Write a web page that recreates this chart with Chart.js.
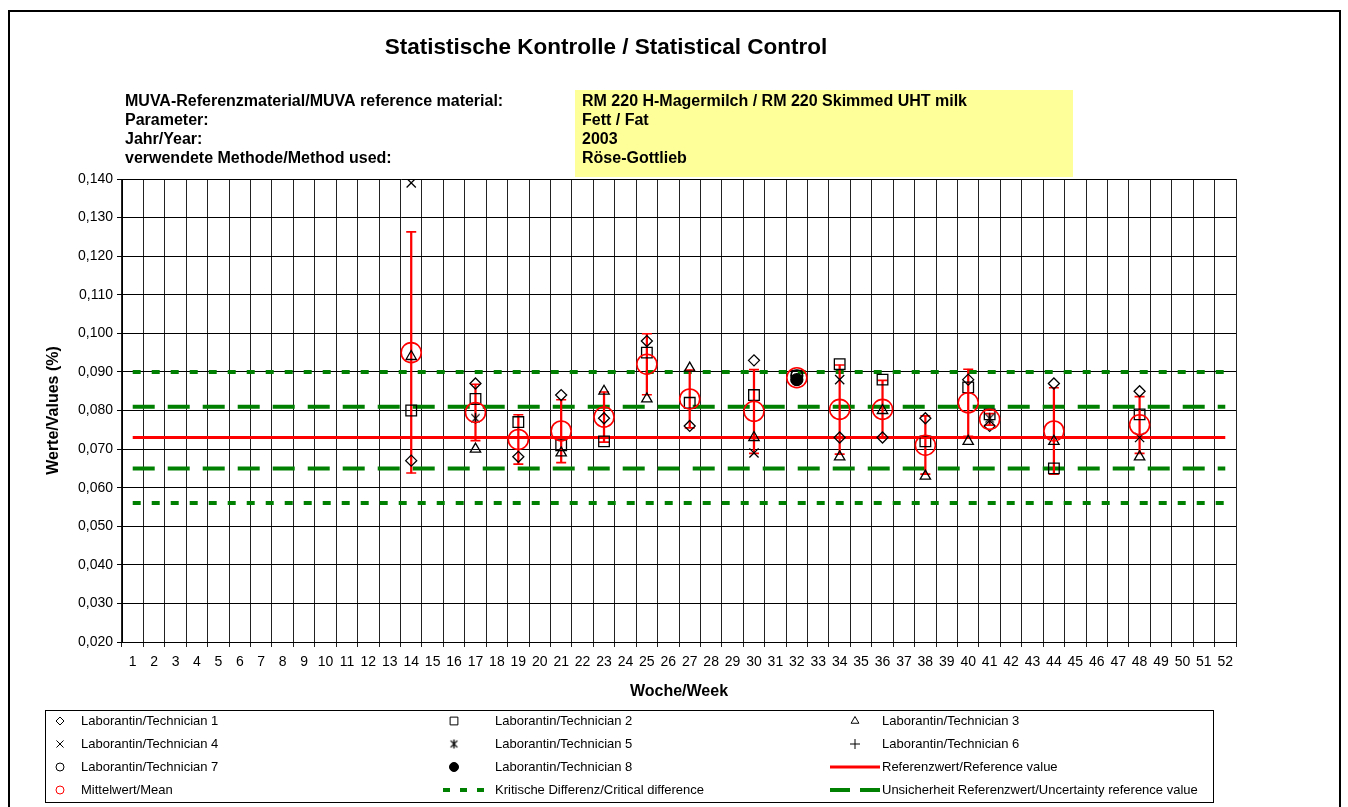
<!DOCTYPE html>
<html>
<head>
<meta charset="utf-8">
<title>Statistische Kontrolle / Statistical Control</title>
<script src="https://cdn.jsdelivr.net/npm/chart.js"></script>
<style>
  html, body { margin: 0; padding: 0; background: #fff; }
  canvas { display: block; }
</style>
</head>
<body>
<canvas id="chart" width="1348" height="807"></canvas>
<script>
// x axis: weeks of the year
var weekLabels = ['1','2','3','4','5','6','7','8','9','10','11','12','13','14','15','16','17','18','19','20',
  '21','22','23','24','25','26','27','28','29','30','31','32','33','34','35','36','37','38','39','40',
  '41','42','43','44','45','46','47','48','49','50','51','52'];

// weeks where samples were measured
var sampleWeeks = [14, 17, 19, 21, 23, 25, 27, 30, 32, 34, 36, 38, 40, 41, 44, 48];

// results per technician (%), null = no result that week
var tech1 = [0.067, 0.087, 0.068, 0.084, 0.078, 0.098, 0.076, 0.093, null, 0.073, 0.073, 0.078, 0.088, 0.076, 0.087, 0.085];
var tech2 = [0.080, 0.083, 0.077, 0.071, 0.072, 0.095, 0.082, 0.084, 0.089, 0.092, 0.088, 0.072, 0.086, 0.079, 0.065, 0.079];
var tech3 = [0.094, 0.070, null, 0.069, 0.085, 0.083, 0.091, 0.073, null, 0.068, 0.080, 0.063, 0.072, null, 0.072, 0.068];
var tech4 = [0.139, null, null, null, null, null, null, 0.069, null, 0.088, null, null, null, null, null, 0.073];
var tech5 = [null, 0.078, null, null, null, null, null, null, null, null, null, null, null, 0.078, null, null];
var tech6 = [null, null, null, null, null, null, null, null, null, null, null, null, null, null, null, null];
var tech7 = [null, null, null, null, null, null, null, null, 0.089, null, null, null, null, null, null, null];
var tech8 = [null, null, null, null, null, null, null, null, 0.088, null, null, null, null, null, null, null];

// mean and its error bar per week
var meanValues = [0.095, 0.0795, 0.0725, 0.0747, 0.0783, 0.092, 0.083, 0.0798, 0.0885, 0.0803, 0.0803, 0.071, 0.082, 0.0777, 0.0747, 0.0763];
var errLow  = [0.0638, 0.0722, 0.0661, 0.0665, 0.0718, 0.0841, 0.0755, 0.0689, 0.0880, 0.0687, 0.0728, 0.0635, 0.0733, 0.0762, 0.0635, 0.0689];
var errHigh = [0.1263, 0.0868, 0.0789, 0.0828, 0.0848, 0.0999, 0.0905, 0.0906, 0.0890, 0.0918, 0.0878, 0.0786, 0.0907, 0.0792, 0.0859, 0.0836];

// reference value and limits
var referenceValue = 0.073;
var uncertaintyLimits = [0.065, 0.081];
var criticalLimits = [0.056, 0.090];

var yMin = 0.020, yMax = 0.140, yStep = 0.010;

var headerLabels = ['MUVA-Referenzmaterial/MUVA reference material:', 'Parameter:', 'Jahr/Year:', 'verwendete Methode/Method used:'];
var headerValues = ['RM 220 H-Magermilch / RM 220 Skimmed UHT milk', 'Fett / Fat', '2003', 'Röse-Gottlieb'];

var FONT = '"Liberation Sans", Arial, sans-serif';
Chart.defaults.font.family = FONT;
Chart.defaults.color = '#000';

function makeStar(size) {
  var c = document.createElement('canvas');
  c.width = size; c.height = size;
  var g = c.getContext('2d');
  g.strokeStyle = '#000';
  g.lineWidth = 1.3;
  var m = size / 2, r = size / 2 - 1;
  g.beginPath();
  g.moveTo(m - r * 0.75, m - r * 0.75); g.lineTo(m + r * 0.75, m + r * 0.75);
  g.moveTo(m + r * 0.75, m - r * 0.75); g.lineTo(m - r * 0.75, m + r * 0.75);
  g.moveTo(m, m - r); g.lineTo(m, m + r);
  g.stroke();
  return c;
}
var starMarker = makeStar(13);
var starLegend = makeStar(11);

function points(values) {
  var out = [];
  for (var i = 0; i < sampleWeeks.length; i++) {
    if (values[i] !== null) out.push({ x: String(sampleWeeks[i]), y: values[i] });
  }
  return out;
}

function hline(v) {
  return [{ x: weekLabels[0], y: v }, { x: weekLabels[weekLabels.length - 1], y: v }];
}

function techSet(label, values, style, radius, fill) {
  return {
    type: 'line', label: label, data: points(values), showLine: false, order: 1,
    pointStyle: style, pointRadius: radius, borderColor: '#000', borderWidth: 1.3,
    pointBackgroundColor: fill || 'rgba(0,0,0,0)', backgroundColor: fill || 'rgba(0,0,0,0)'
  };
}

var errBars = [], errCaps = [];
for (var i = 0; i < sampleWeeks.length; i++) {
  errBars.push({ x: String(sampleWeeks[i]), y: [errLow[i], errHigh[i]] });
  errCaps.push({ x: String(sampleWeeks[i]), y: errLow[i] });
  errCaps.push({ x: String(sampleWeeks[i]), y: errHigh[i] });
}

var datasets = [
  { type: 'line', label: 'Mittelwert/Mean', data: points(meanValues), showLine: false, order: 0,
    pointStyle: 'circle', pointRadius: 10, borderColor: '#ff0000', borderWidth: 1.6,
    pointBackgroundColor: 'rgba(0,0,0,0)' },
  techSet('Laborantin/Technician 1', tech1, 'rectRot', 5.5),
  techSet('Laborantin/Technician 2', tech2, 'rect', 7.5),
  techSet('Laborantin/Technician 3', tech3, 'triangle', 6),
  techSet('Laborantin/Technician 4', tech4, 'crossRot', 6.5),
  techSet('Laborantin/Technician 5', tech5, starMarker, 6),
  techSet('Laborantin/Technician 6', tech6, 'cross', 6),
  techSet('Laborantin/Technician 7', tech7, 'circle', 6),
  techSet('Laborantin/Technician 8', tech8, 'circle', 6, '#000'),
  { type: 'line', label: 'caps', data: errCaps, showLine: false, order: 2,
    pointStyle: 'line', pointRadius: 5, borderColor: '#ff0000', borderWidth: 1.6 },
  { type: 'bar', label: 'errors', data: errBars, order: 3, barThickness: 1.6,
    backgroundColor: '#ff0000', borderWidth: 0 },
  { type: 'line', label: 'Referenzwert/Reference value', data: hline(referenceValue), order: 4,
    borderColor: '#ff0000', borderWidth: 3, pointRadius: 0 },
  { type: 'line', label: 'Unsicherheit hi', data: hline(uncertaintyLimits[1]), order: 5,
    borderColor: '#008000', borderWidth: 4, borderDash: [22, 13], pointRadius: 0 },
  { type: 'line', label: 'Unsicherheit lo', data: hline(uncertaintyLimits[0]), order: 5,
    borderColor: '#008000', borderWidth: 4, borderDash: [22, 13], pointRadius: 0 },
  { type: 'line', label: 'Kritisch hi', data: hline(criticalLimits[1]), order: 5,
    borderColor: '#008000', borderWidth: 4, borderDash: [8, 11], pointRadius: 0 },
  { type: 'line', label: 'Kritisch lo', data: hline(criticalLimits[0]), order: 5,
    borderColor: '#008000', borderWidth: 4, borderDash: [8, 11], pointRadius: 0 }
];

// legend rows, three columns like the sheet
var legendItems = [
  { text: 'Laborantin/Technician 1', style: 'rectRot', r: 4 },
  { text: 'Laborantin/Technician 2', style: 'rect', r: 5.5 },
  { text: 'Laborantin/Technician 3', style: 'triangle', r: 4.5 },
  { text: 'Laborantin/Technician 4', style: 'crossRot', r: 5 },
  { text: 'Laborantin/Technician 5', style: starLegend, r: 5 },
  { text: 'Laborantin/Technician 6', style: 'cross', r: 5 },
  { text: 'Laborantin/Technician 7', style: 'circle', r: 4 },
  { text: 'Laborantin/Technician 8', style: 'circle', r: 4.5, fill: '#000' },
  { text: 'Referenzwert/Reference value', line: '#ff0000', width: 3, dash: [] },
  { text: 'Mittelwert/Mean', style: 'circle', r: 4, color: '#ff0000' },
  { text: 'Kritische Differenz/Critical difference', line: '#008000', width: 4, dash: [7, 10] },
  { text: 'Unsicherheit Referenzwert/Uncertainty reference value', line: '#008000', width: 4, dash: [20, 10] }
];

var sheetDecor = {
  id: 'sheetDecor',
  beforeDraw: function (chart) {
    var ctx = chart.ctx;
    ctx.save();
    ctx.fillStyle = '#fff';
    ctx.fillRect(0, 0, chart.width, chart.height);
    ctx.restore();
  },
  afterDraw: function (chart) {
    var ctx = chart.ctx;
    ctx.save();
    // outer frame
    ctx.strokeStyle = '#000';
    ctx.lineWidth = 2;
    ctx.strokeRect(9, 11, 1331, 810);

    // title
    ctx.fillStyle = '#000';
    ctx.textBaseline = 'middle';
    ctx.textAlign = 'center';
    ctx.font = 'bold 22.5px ' + FONT;
    ctx.fillText('Statistische Kontrolle / Statistical Control', 606, 48);

    // info block
    ctx.fillStyle = '#ffff99';
    ctx.fillRect(575, 90, 498, 87);
    ctx.fillStyle = '#000';
    ctx.textAlign = 'left';
    ctx.font = 'bold 16px ' + FONT;
    for (var i = 0; i < headerLabels.length; i++) {
      var y = 102 + i * 19;
      ctx.fillText(headerLabels[i], 125, y);
      ctx.fillText(headerValues[i], 582, y);
    }

    // legend box
    ctx.lineWidth = 1;
    ctx.strokeStyle = '#000';
    ctx.strokeRect(45.5, 710.5, 1168, 92);
    var colMarker = [60, 454, 855], colText = [81, 495, 882];
    ctx.font = '13px ' + FONT;
    for (var k = 0; k < legendItems.length; k++) {
      var it = legendItems[k];
      var col = k % 3, row = Math.floor(k / 3);
      var ly = 721 + row * 23;
      if (it.line) {
        ctx.save();
        ctx.strokeStyle = it.line;
        ctx.lineWidth = it.width;
        ctx.setLineDash(it.dash);
        ctx.beginPath();
        ctx.moveTo(colText[col] - 52, ly);
        ctx.lineTo(colText[col] - 2, ly);
        ctx.stroke();
        ctx.restore();
      } else if (Chart.helpers && Chart.helpers.drawPoint) {
        ctx.save();
        ctx.strokeStyle = it.color || '#000';
        ctx.fillStyle = it.fill || 'rgba(0,0,0,0)';
        Chart.helpers.drawPoint(ctx, { pointStyle: it.style, radius: it.r, borderWidth: 1.6, rotation: 0 }, colMarker[col], ly);
        ctx.restore();
      }
      ctx.fillStyle = '#000';
      ctx.fillText(it.text, colText[col], ly);
    }
    ctx.restore();
  }
};

new Chart(document.getElementById('chart'), {
  type: 'line',
  data: { labels: weekLabels, datasets: datasets },
  options: {
    responsive: false,
    animation: false,
    events: [],
    layout: { padding: { left: 38, right: 112, top: 179, bottom: 103 } },
    plugins: { legend: { display: false }, tooltip: { enabled: false }, title: { display: false } },
    scales: {
      x: {
        type: 'category',
        offset: true,
        grid: { offset: true, color: '#222', lineWidth: 1, tickLength: 5 },
        border: { color: '#000', width: 1 },
        ticks: { autoSkip: false, maxRotation: 0, padding: 7, font: { size: 14 } },
        title: { display: true, text: 'Woche/Week', font: { size: 16, weight: 'bold' }, padding: { top: 0, bottom: 3 } },
        afterFit: function (s) { s.height = 62; }
      },
      y: {
        type: 'linear',
        min: yMin, max: yMax,
        grid: { color: '#000', lineWidth: 1, tickLength: 5 },
        border: { color: '#000', width: 1 },
        ticks: {
          stepSize: yStep, padding: 4, font: { size: 14 },
          callback: function (v) { return v.toFixed(3).replace('.', ','); }
        },
        title: { display: true, text: 'Werte/Values (%)', font: { size: 16, weight: 'bold' }, padding: { top: 6, bottom: 0 } },
        afterFit: function (s) { s.width = 84; }
      }
    }
  },
  plugins: [sheetDecor]
});
</script>
</body>
</html>
